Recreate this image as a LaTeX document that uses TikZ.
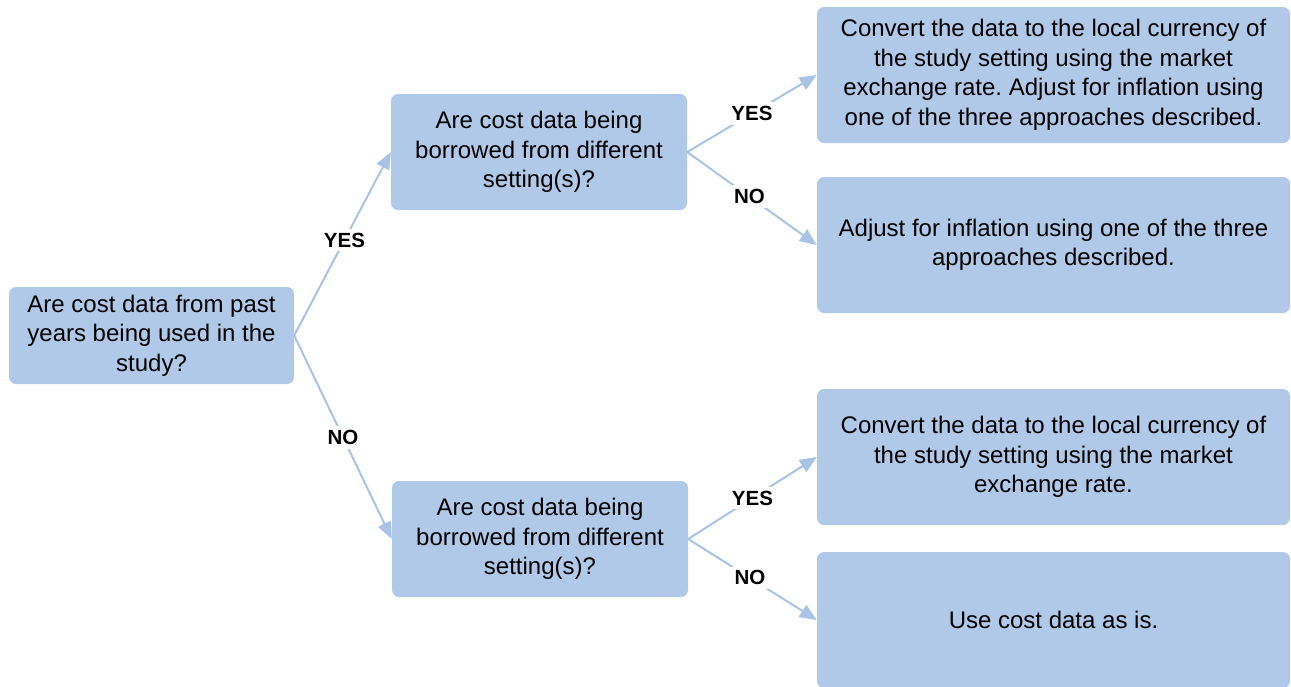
\documentclass[tikz,border=0pt]{standalone}
\usepackage{fontspec}
\setmainfont{Liberation Sans}
\usetikzlibrary{arrows.meta}
\frenchspacing
\definecolor{boxblue}{HTML}{B1C9E9}
\definecolor{linkblue}{HTML}{A8C3E6}
\begin{document}
\begin{tikzpicture}[x=1pt,y=-1pt,
  box/.style={draw=none, fill=boxblue, rounded corners=7pt, align=center,
    font=\fontsize{24}{29.5}\selectfont, inner sep=0pt},
  qbox/.style={box, minimum width=296pt, minimum height=116pt},
  abox/.style={box, minimum width=473pt, minimum height=136pt},
  link/.style={draw=linkblue, line width=2pt, -{Triangle[length=17pt,width=14pt]}},
  lab/.style={fill=white, font=\bfseries\fontsize{20.5}{24}\selectfont, inner sep=4pt}]
\clip (0,0) rectangle (1291,686);
% questions
\node[box, minimum width=285pt, minimum height=97pt] (q1) at (151.5,335.5)
  {Are cost data from past\\years being used in the\\study?};
\node[qbox] (q2) at (539,152)
  {Are cost data being\\borrowed from different\\setting(s)?};
\node[qbox] (q3) at (540,539)
  {Are cost data being\\borrowed from different\\setting(s)?};
% outcomes
\node[abox] (r1) at (1053.5,75)
  {Convert the data to the local currency of\\the study setting using the market\\exchange rate. Adjust for inflation using\\one of the three approaches described.};
\node[abox] (r2) at (1053.5,245)
  {Adjust for inflation using one of the three\\approaches described.};
\node[abox] (r3) at (1053.5,457)
  {Convert the data to the local currency of\\the study setting using the market\\exchange rate.};
\node[abox] (r4) at (1053.5,620)
  {Use cost data as is.};
% connectors
\draw[link] (q1.east) -- node[lab, pos=0.52] {YES} (q2.west);
\draw[link] (q1.east) -- node[lab, pos=0.5] {NO} (q3.west);
\draw[link] (q2.east) -- node[lab, pos=0.5] {YES} (r1.west);
\draw[link] (q2.east) -- node[lab, pos=0.48] {NO} (r2.west);
\draw[link] (q3.east) -- node[lab, pos=0.5] {YES} (r3.west);
\draw[link] (q3.east) -- node[lab, pos=0.48] {NO} (r4.west);
\end{tikzpicture}
\end{document}
